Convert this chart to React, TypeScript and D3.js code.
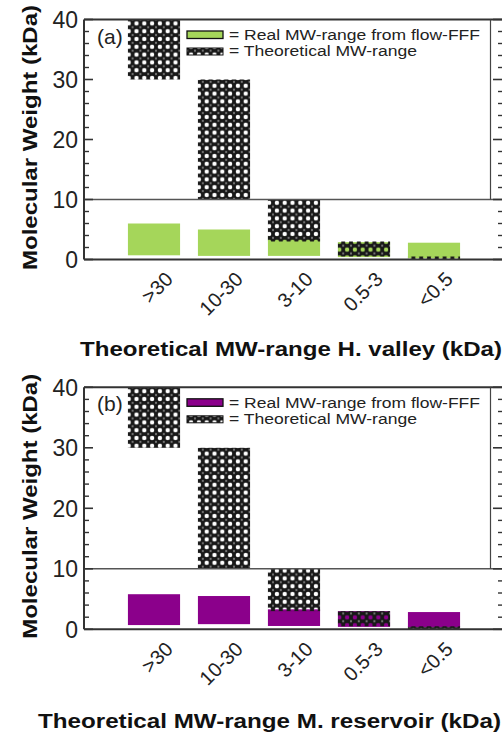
import React from "react";
import * as d3 from "d3";

const categories = [">30", "10-30", "3-10", "0.5-3", "<0.5"];
const theoLow = [30, 10, 3, 0.5, 0];
const theoHigh = [40, 30, 10, 3, 0.5];
const realLowA = [0.7, 0.6, 0.6, 0.4, 0.2];
const realHighA = [6.0, 5.0, 3.9, 2.9, 2.8];
const realLowB = [0.7, 0.85, 0.55, 0.4, 0.35];
const realHighB = [5.8, 5.5, 3.3, 3.0, 2.85];
const yMajor = [0, 10, 20, 30, 40];
const yMinor = d3.range(0, 41, 2).filter((v) => v % 10 !== 0);

const FONT = "'Liberation Sans', Arial, Helvetica, sans-serif";
const W = 502;
const H = 736;
const X0 = 84;
const X1 = 504;

type PanelProps = {
  id: string;
  top: number;
  bottom: number;
  low: number[];
  high: number[];
  color: string;
  label: string;
  xTitle: string;
  xTitleX: number;
  xTitleLen: number;
  xTitleY: number;
  realName: string;
};

function Panel(p: PanelProps) {
  const y = d3.scaleLinear().domain([0, 40]).range([p.bottom, p.top]);
  const xi = d3.scaleLinear().domain([-1, 5]).range([X0, X1]);
  const step = xi(1) - xi(0);
  const bw = step * 0.745;
  const pat = `url(#hatch-${p.id})`;
  const yTitleCenter = (p.top + p.bottom) / 2 - 2;
  return (
    <g>
      <defs>
        <pattern
          id={`hatch-${p.id}`}
          patternUnits="userSpaceOnUse"
          width={7.8}
          height={7.8}
          x={0}
          y={p.top}
        >
          <path
            d="M0,0H7.8V7.8H0Z M3.9,1.7 A2.2,2.2 0 1,0 3.9,6.1 A2.2,2.2 0 1,0 3.9,1.7Z"
            fill="#181818"
            fillRule="evenodd"
          />
          <circle cx={0} cy={0} r={1.1} fill="#777" />
          <circle cx={7.8} cy={0} r={1.1} fill="#777" />
          <circle cx={0} cy={7.8} r={1.1} fill="#777" />
          <circle cx={7.8} cy={7.8} r={1.1} fill="#777" />
        </pattern>
      </defs>
      {/* real bars */}
      {categories.map((c, i) => (
        <rect
          key={"r" + c}
          x={xi(i) - bw / 2}
          y={y(p.high[i])}
          width={bw}
          height={y(p.low[i]) - y(p.high[i])}
          fill={p.color}
        />
      ))}
      {/* theoretical bars */}
      {categories.map((c, i) => (
        <rect
          key={"t" + c}
          x={xi(i) - bw / 2}
          y={y(theoHigh[i])}
          width={bw}
          height={y(theoLow[i]) - y(theoHigh[i])}
          fill={pat}
        />
      ))}
      {/* frame */}
      <line x1={X0} x2={X1} y1={p.top} y2={p.top} stroke="#333" strokeWidth={2} />
      <line x1={X0} x2={X1} y1={p.bottom} y2={p.bottom} stroke="#333" strokeWidth={2} />
      <line x1={X0} x2={X0} y1={p.top} y2={p.bottom} stroke="#333" strokeWidth={2} />
      <line x1={X0} x2={X1} y1={y(10)} y2={y(10)} stroke="#555" strokeWidth={1.6} />
      <line x1={490.5} x2={490.5} y1={p.top} y2={y(10)} stroke="#444" strokeWidth={1.2} />
      {/* ticks */}
      {yMajor.map((v) => (
        <g key={"M" + v}>
          <line x1={X0} x2={X0 + 9} y1={y(v)} y2={y(v)} stroke="#333" strokeWidth={1.6} />
          <line x1={X1} x2={X1 - 11} y1={y(v)} y2={y(v)} stroke="#333" strokeWidth={1.6} />
          <text
            x={78}
            y={y(v) + 8.3}
            textAnchor="end"
            fontFamily={FONT}
            fontSize={23}
            fill="#222"
          >
            {v}
          </text>
        </g>
      ))}
      {yMinor.map((v) => (
        <g key={"m" + v}>
          <line x1={X0} x2={X0 + 5} y1={y(v)} y2={y(v)} stroke="#333" strokeWidth={1.4} />
          <line x1={X1} x2={X1 - 6} y1={y(v)} y2={y(v)} stroke="#333" strokeWidth={1.4} />
        </g>
      ))}
      {/* x tick labels */}
      {categories.map((c, i) => (
        <text
          key={"xl" + c}
          transform={`translate(${xi(i) + 20},${p.bottom + 21}) rotate(-45)`}
          textAnchor="end"
          fontFamily={FONT}
          fontSize={20}
          fill="#222"
        >
          {c}
        </text>
      ))}
      {/* panel label */}
      <text x={97} y={p.top + 24} fontFamily={FONT} fontSize={21} fill="#222">
        {p.label}
      </text>
      {/* legend */}
      <rect
        x={187}
        y={p.top + 11.5}
        width={36}
        height={7.5}
        fill={p.color}
        stroke="#111"
        strokeWidth={1.3}
      />
      <rect
        x={187}
        y={p.top + 28.5}
        width={36}
        height={7}
        fill={pat}
        stroke="#111"
        strokeWidth={1}
      />
      <text
        x={229}
        y={p.top + 20.5}
        fontFamily={FONT}
        fontSize={15.5}
        fill="#222"
        textLength={251}
        lengthAdjust="spacingAndGlyphs"
      >
        {"= " + p.realName}
      </text>
      <text
        x={229}
        y={p.top + 36.5}
        fontFamily={FONT}
        fontSize={15.5}
        fill="#222"
        textLength={188}
        lengthAdjust="spacingAndGlyphs"
      >
        = Theoretical MW-range
      </text>
      {/* axis titles */}
      <text
        transform={`translate(37,${yTitleCenter}) rotate(-90)`}
        textAnchor="middle"
        fontFamily={FONT}
        fontWeight="bold"
        fontSize={21}
        fill="#111"
        textLength={265}
        lengthAdjust="spacingAndGlyphs"
      >
        Molecular Weight (kDa)
      </text>
      <text
        x={p.xTitleX}
        y={p.xTitleY}
        fontFamily={FONT}
        fontWeight="bold"
        fontSize={20}
        fill="#111"
        textLength={p.xTitleLen}
        lengthAdjust="spacingAndGlyphs"
      >
        {p.xTitle}
      </text>
    </g>
  );
}

export default function App() {
  return (
    <svg
      width={W}
      height={H}
      style={{ position: "absolute", left: 0, top: 0, background: "#fff" }}
    >
      <rect x={0} y={0} width={W} height={H} fill="#fff" />
      <Panel
        id="a"
        top={19.5}
        bottom={259.5}
        low={realLowA}
        high={realHighA}
        color="#a5d65a"
        label="(a)"
        xTitle="Theoretical MW-range H. valley (kDa)"
        xTitleX={80}
        xTitleLen={422}
        xTitleY={356}
        realName="Real MW-range from flow-FFF"
      />
      <Panel
        id="b"
        top={387.3}
        bottom={629.3}
        low={realLowB}
        high={realHighB}
        color="#8b008b"
        label="(b)"
        xTitle="Theoretical MW-range M. reservoir (kDa)"
        xTitleX={38}
        xTitleLen={463}
        xTitleY={727.5}
        realName="Real MW-range from flow-FFF"
      />
    </svg>
  );
}
